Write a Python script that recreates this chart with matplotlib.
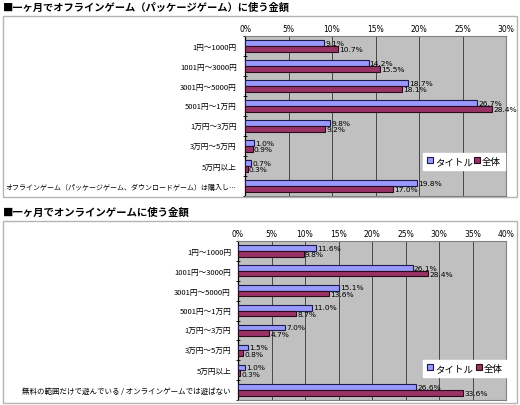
import numpy as np
import matplotlib.pyplot as plt
import matplotlib.patches as mpatches

plt.rcParams['font.family'] = ['Noto Sans CJK JP', 'DejaVu Sans']

# --- data ---
price_bands = ["1円～1000円", "1001円～3000円", "3001円～5000円", "5001円～1万円",
               "1万円～3万円", "3万円～5万円", "5万円以上"]

offline_title = "■一ヶ月でオフラインゲーム（パッケージゲーム）に使う金額"
offline_cats = price_bands + ["オフラインゲーム（パッケージゲーム、ダウンロードゲーム）は購入し…"]
offline_title_users = [9.1, 14.2, 18.7, 26.7, 9.8, 1.0, 0.7, 19.8]
offline_all = [10.7, 15.5, 18.1, 28.4, 9.2, 0.9, 0.3, 17.0]

online_title = "■一ヶ月でオンラインゲームに使う金額"
online_cats = price_bands + ["無料の範囲だけで遊んでいる / オンラインゲームでは遊ばない"]
online_title_users = [11.6, 26.1, 15.1, 11.0, 7.0, 1.5, 1.0, 26.6]
online_all = [9.8, 28.4, 13.6, 8.7, 4.7, 0.8, 0.3, 33.6]

series_names = ["タイトル", "全体"]

BLUE = "#9999ff"
RED = "#993366"
PLOT_BG = "#c0c0c0"
FRAME = "#b4b4b4"

W, H = 520, 406
fig = plt.figure(figsize=(W / 100, H / 100), dpi=100, facecolor="white")


def px_axes(x0, y0, x1, y1):
    ax = fig.add_axes([x0 / W, 1 - y1 / H, (x1 - x0) / W, (y1 - y0) / H])
    ax.set_zorder(5)
    return ax


def frame(x0, y0, x1, y1):
    fig.patches.append(mpatches.Rectangle((x0 / W, 1 - y1 / H), (x1 - x0) / W, (y1 - y0) / H,
                                          transform=fig.transFigure, facecolor="white",
                                          edgecolor=FRAME, linewidth=1.0, zorder=-10))


def draw_panel(ax, cats, a, b, xmax, legend_box, pad, long_size):
    n = len(cats)
    y = np.arange(n)
    h = 0.285
    ax.set_facecolor(PLOT_BG)
    ax.barh(y - h / 2, a, height=h, color=BLUE, edgecolor="#1a1a4d", linewidth=0.8, zorder=3,
            label=series_names[0])
    ax.barh(y + h / 2, b, height=h, color=RED, edgecolor="#2a0a1a", linewidth=0.8, zorder=3,
            label=series_names[1])
    for i in range(n):
        ax.text(a[i] + xmax * 0.004, y[i] - h / 2 - 0.02, f"{a[i]:.1f}%", fontsize=5.4,
                va="center", ha="left", zorder=4, family="DejaVu Sans")
        ax.text(b[i] + xmax * 0.004, y[i] + h / 2 + 0.03, f"{b[i]:.1f}%", fontsize=5.4,
                va="center", ha="left", zorder=4, family="DejaVu Sans")
    ax.set_xlim(0, xmax)
    ax.set_ylim(n - 0.5, -0.5)
    ticks = np.arange(0, xmax + 1, 5)
    ax.set_xticks(ticks)
    ax.set_xticklabels([f"{t}%" for t in ticks], fontsize=5.5, family="DejaVu Sans")
    ax.xaxis.tick_top()
    ax.tick_params(axis="x", length=0, pad=2.5)
    ax.set_yticks(y)
    ax.set_yticklabels(cats, fontsize=5.5)
    ax.get_yticklabels()[-1].set_fontsize(long_size)
    ax.set_yticks(np.arange(n + 1) - 0.5, minor=True)
    ax.tick_params(axis="y", which="major", length=0, pad=pad)
    ax.tick_params(axis="y", which="minor", length=3, direction="inout")
    ax.grid(axis="x", color="#333333", linewidth=0.6, zorder=1)
    ax.set_axisbelow(True)
    for side in ("top", "right", "bottom"):
        ax.spines[side].set_color("#808080")
        ax.spines[side].set_linewidth(0.8)
    ax.spines["left"].set_color("black")
    ax.spines["left"].set_linewidth(0.9)
    leg = ax.legend(loc="lower left", bbox_to_anchor=legend_box, bbox_transform=fig.transFigure,
                    mode="expand", ncol=2, fontsize=6.8, frameon=True, fancybox=False,
                    handlelength=0.6, handleheight=0.6, handletextpad=0.2, columnspacing=1.0,
                    borderpad=0.45, borderaxespad=0)
    leg.get_frame().set_facecolor("white")
    leg.get_frame().set_edgecolor("white")
    leg.get_frame().set_alpha(1.0)


# --- top panel ---
frame(3, 17, 517, 198)
fig.text(3 / W, 1 - 8 / H, offline_title, fontsize=7.4, va="center", ha="left", weight="bold")
ax1 = px_axes(245, 37, 506, 197)
draw_panel(ax1, offline_cats, offline_title_users, offline_all, 30,
           (423 / W, 1 - 171 / H, 82 / W, 20 / H), pad=6, long_size=5.0)

# --- bottom panel ---
frame(3, 222, 517, 404)
fig.text(3 / W, 1 - 213 / H, online_title, fontsize=7.5, va="center", ha="left", weight="bold")
ax2 = px_axes(238, 242, 506, 401)
draw_panel(ax2, online_cats, online_title_users, online_all, 40,
           (423 / W, 1 - 378 / H, 84 / W, 20 / H), pad=5, long_size=5.4)

fig.savefig("out.png", dpi=100, facecolor="white")
